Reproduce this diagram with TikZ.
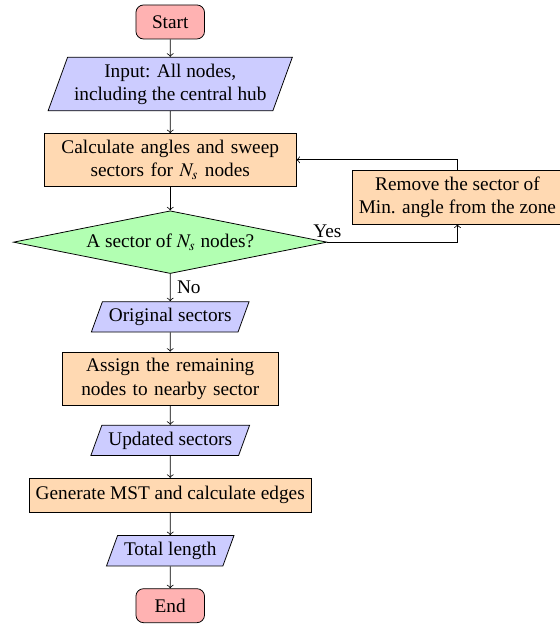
\documentclass[tikz,border=0pt]{standalone}
\usepackage{mathptmx}
\usepackage{fontspec}
\setmainfont{Liberation Serif}
\usepackage{tikz}
\usetikzlibrary{shapes.geometric}

\begin{document}
\begin{tikzpicture}[startstop/.style={rectangle, rounded corners, draw=black, fill=red!30, minimum width=1.25cm, minimum height=0.62cm},
    io/.style={trapezium, trapezium left angle=70, trapezium right angle=110, draw=black, fill=blue!20, align=center},
    process/.style={rectangle, draw=black, fill=orange!30, align=center, minimum height=0.62cm},
    decision/.style={diamond, aspect=5, inner sep=2.7pt, draw=black, fill=green!30}]
    \useasboundingbox (-3.10, 0.40) rectangle (7.09, -11.00);

    %Nodes
    \node[startstop] at (0, 0) (start) {Start};
    \node[io] at (0, -1.13) (input) {Input: All nodes,\\including the central hub};
    \node[process, text width=4.35cm] at (0, -2.51) (calc) {Calculate angles and sweep\\sectors for $N_s$ nodes};
    \node[process] at (5.23, -3.19) (remove) {Remove the sector of\\Min. angle from the zone};
    \node[decision] at (0, -4.01) (decide) {A sector of $N_s$ nodes?};
    \node[io] at (0, -5.37) (orig) {Original sectors};
    \node[process, text width=3.7cm] at (0, -6.50) (assign) {Assign the remaining\\nodes to nearby sector};
    \node[io] at (0, -7.62) (updated) {Updated sectors};
    \node[process] at (0, -8.62) (mst) {Generate MST and calculate edges};
    \node[io] at (0, -9.63) (total) {Total length};
    \node[startstop] at (0, -10.63) (end) {End};

    %Lines
    \draw[->] (start) -- (input);
    \draw[->] (input) -- (calc);
    \draw[->] (calc) -- (decide);
    \draw[->] (decide.east) -| (remove.south) node [above, pos=0, inner sep=2pt] {Yes};
    \draw[->] (remove.north) |- (calc.east);
    \draw[->] (decide) -- (orig) node [right, midway] {No};
    \draw[->] (orig) -- (assign);
    \draw[->] (assign) -- (updated);
    \draw[->] (updated) -- (mst);
    \draw[->] (mst) -- (total);
    \draw[->] (total) -- (end);

    \end{tikzpicture}
\end{document}
